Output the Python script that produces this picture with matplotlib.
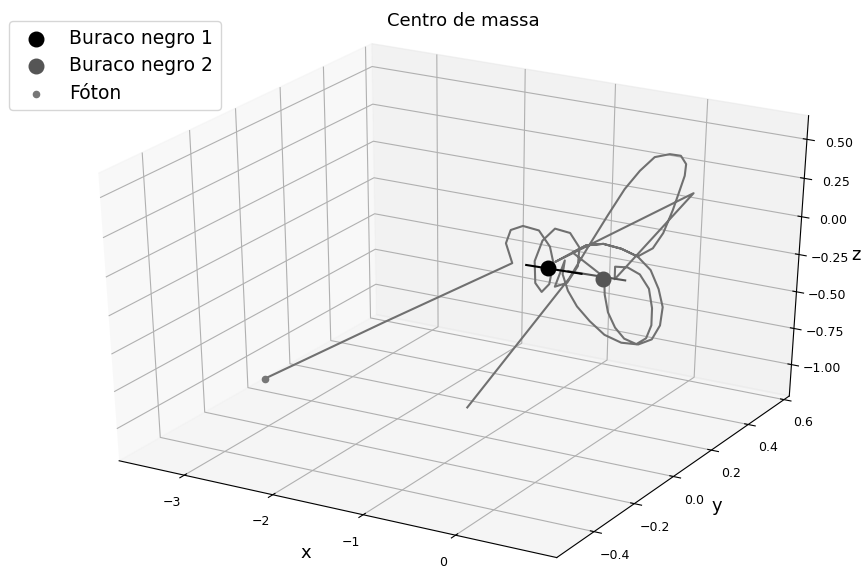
import numpy as np
import matplotlib.pyplot as plt

# trajetoria do foton
foton_x = [-3.54, -2.13, -0.72,
           -0.79, -0.74, -0.61, -0.44, -0.32, -0.28, -0.32, -0.40, -0.47, -0.48,
           -0.40, -0.27, -0.11, -0.01, -0.02, -0.13, -0.26,
           -0.16, -0.18, -0.12, -0.02, 0.12, 0.28, 0.46, 0.64, 0.78, 0.86, 0.88,
           0.83, 0.74, 0.60, 0.43, 0.24, 0.06, -0.08,
           0.26, 0.27, 0.31, 0.39, 0.49, 0.62, 0.72, 0.77, 0.77, 0.73, 0.63,
           0.50, 0.37, 0.37,
           0.55, -0.26, -0.08, 0.06, 0.24, 0.43, 0.60,
           0.51, 0.41, 0.34, 0.24, 0.15, 0.06, -0.06, -0.22, -0.28, -0.27,
           -0.22, -0.14, -0.09, -0.11, -0.06]
foton_y = [0.0, 0.0, 0.0,
           0.0, 0.0, 0.0, 0.0, 0.0, 0.0, 0.0, 0.0, 0.0, 0.0,
           0.0, 0.0, 0.0, 0.0, 0.0, 0.0, 0.0,
           0.0, 0.0, 0.0, 0.0, 0.0, 0.0, 0.0, 0.0, 0.0, 0.0, 0.0,
           0.0, 0.0, 0.0, 0.0, 0.0, 0.0, 0.0,
           0.0, 0.0, 0.0, 0.0, 0.0, 0.0, 0.0, 0.0, 0.0, 0.0, 0.0,
           0.0, 0.0, 0.0,
           0.30, 0.0, 0.0, 0.0, 0.0, 0.0, 0.0,
           0.12, 0.22, 0.30, 0.38, 0.45, 0.50, 0.53, 0.55, 0.50, 0.42,
           0.32, 0.20, 0.08, 0.0, -0.50]
foton_z = [-1.13, -0.57, -0.02,
           0.10, 0.19, 0.23, 0.22, 0.13, 0.03, -0.11, -0.17, -0.12, 0.02,
           0.16, 0.25, 0.24, 0.16, 0.04, -0.08, -0.12,
           0.06, -0.03, -0.13, -0.22, -0.30, -0.37, -0.40, -0.39, -0.34, -0.24, -0.12,
           -0.01, 0.10, 0.17, 0.20, 0.21, 0.18, 0.12,
           0.00, -0.11, -0.22, -0.31, -0.37, -0.39, -0.34, -0.25, -0.14, -0.02, 0.06,
           0.09, 0.08, 0.00,
           0.34, 0.04, 0.12, 0.18, 0.21, 0.20, 0.17,
           0.12, 0.13, 0.21, 0.26, 0.30, 0.33, 0.35, 0.33, 0.34, 0.31,
           0.27, 0.20, 0.09, -0.05, -0.46]

# buracos negros: trajetorias e posicoes
bh1_x = [-0.57, 0.02]
bh1_y = [0.0, 0.0]
bh1_z = [-0.015, -0.005]
bh2_x = [-0.12, 0.48]
bh2_y = [0.0, 0.0]
bh2_z = [-0.005, 0.005]
bh1_pos = [-0.34, 0.0, -0.01]
bh2_pos = [0.25, 0.0, -0.01]

fig = plt.figure(figsize=(8.65, 5.66), dpi=100)
ax = fig.add_axes([0.0675, 0.015, 0.905, 0.9205], projection='3d')
ax.set_box_aspect((4, 4, 3.9), zoom=1.075)
# deixa o cubo esticar com a caixa dos eixos (como nas versoes antigas)
ax.apply_aspect = lambda position=None: None

ax.plot(foton_x, foton_y, foton_z, color='#707070', lw=1.5)
ax.plot(bh2_x, bh2_y, bh2_z, color='#555555', lw=1.5)
ax.plot(bh1_x, bh1_y, bh1_z, color='black', lw=1.5)

ax.scatter(*bh1_pos, s=110, color='black', depthshade=False, label='Buraco negro 1')
ax.scatter(*bh2_pos, s=110, color='#555555', depthshade=False, label='Buraco negro 2')
ax.scatter(foton_x[0], foton_y[0], foton_z[0], s=20, color='#777777',
           depthshade=False, label='Fóton')

ax.set_xlim(-3.75, 1.07)
ax.set_ylim(-0.58, 0.63)
ax.set_zlim(-1.22, 0.65)
ax.set_xticks([-3, -2, -1, 0])
ax.set_yticks([-0.4, -0.2, 0.0, 0.2, 0.4, 0.6])
ax.set_zticks([-1.0, -0.75, -0.5, -0.25, 0.0, 0.25, 0.5])
ax.tick_params(labelsize=9)
ax.set_xlabel('x', fontsize=13)
ax.set_ylabel('y', fontsize=13, labelpad=1)
ax.set_zlabel('z', fontsize=13, labelpad=0)
ax.set_title('Centro de massa', fontsize=13, x=0.517, pad=7.5)

fig.legend(loc='upper left', bbox_to_anchor=(0.0, 0.979), fontsize=13.5,
           labelspacing=0.45)

fig.savefig('out.png')
